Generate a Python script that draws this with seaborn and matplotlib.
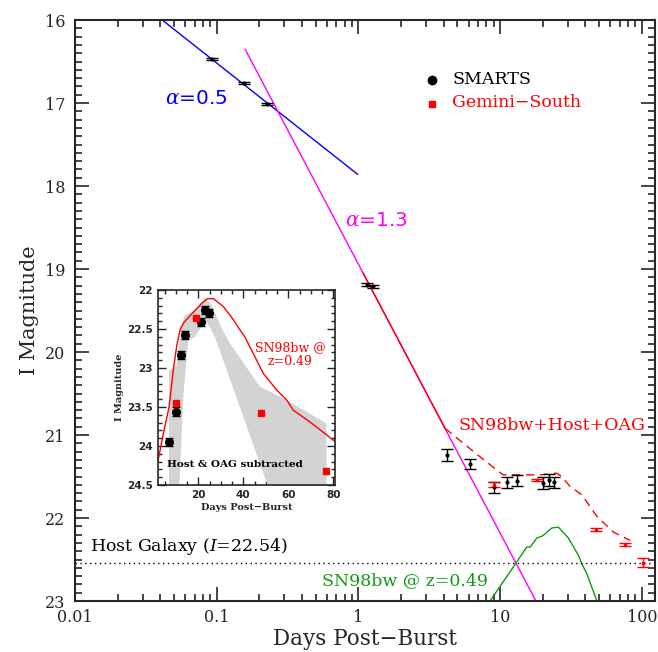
import numpy as np
import pandas as pd
import matplotlib
matplotlib.use("Agg")
import matplotlib.pyplot as plt
import matplotlib.ticker as mticker
import seaborn as sns

# ==========================================
# DATA
# ==========================================

# SMARTS (black) points
smarts_t = [0.0923, 0.157, 0.2275, 1.146, 1.275, 4.2, 6.14, 9.12, 11.25, 13.2, 20.2, 22.2, 24.2]
smarts_mag = [16.47, 16.755, 17.01, 19.19, 19.21, 21.24, 21.35, 21.63, 21.57, 21.55, 21.58, 21.54, 21.57]
smarts_err = [0.012, 0.012, 0.015, 0.02, 0.02, 0.07, 0.06, 0.07, 0.07, 0.07, 0.07, 0.07, 0.07]

# Gemini-South (red) points
gemini_t = [9.12, 18.2, 47.3, 76.2, 102.6]
gemini_mag = [21.60, 21.54, 22.14, 22.32, 22.54]
gemini_err = [0.03, 0.015, 0.02, 0.02, 0.055]

# power-law fits
alpha05_t = [0.0413, 0.99]
alpha05_mag = [16.0, 17.86]
alpha13_t = [0.1585, 17.9]
alpha13_mag = [16.35, 23.0]

# SN98bw + Host + OAG model
model_solid_t = [1.08, 4.09]
model_solid_mag = [19.05, 20.92]
model_dash_t = [4.09, 7.43, 10.5, 13.1, 15.4, 19.1, 25.1, 27.2, 31.2, 37.7, 48.2, 63.1, 82.8]
model_dash_mag = [20.92, 21.28, 21.48, 21.48, 21.48, 21.48, 21.46, 21.5, 21.62, 21.72, 21.98, 22.17, 22.27]

# SN98bw @ z=0.49
sn_t = [8.49, 12.4, 15.4, 16.3, 18.2, 19.7, 20.8, 23.2, 25.8, 30.3, 35.7, 37.7, 40.9, 48.2]
sn_mag = [23.0, 22.59, 22.35, 22.35, 22.24, 22.22, 22.19, 22.12, 22.11, 22.24, 22.45, 22.55, 22.67, 23.0]

host_mag = 22.54

# inset: host & OAG subtracted
in_black_day = [7.1, 10.1, 12.1, 14.1, 21.0, 23.0, 24.9]
in_black_mag = [23.95, 23.56, 22.83, 22.58, 22.41, 22.26, 22.29]
in_black_err = [0.05, 0.06, 0.05, 0.05, 0.05, 0.05, 0.05]
in_red_day = [10.1, 19.0, 47.9, 76.7]
in_red_mag = [23.45, 22.36, 23.58, 24.32]
in_red_err = [0.02, 0.02, 0.02, 0.02]

in_sn_day = [1.9, 4.4, 7.0, 9.0, 10.5, 12.0, 13.5, 16.3, 19.3, 21.5, 24.0, 26.7, 31.1,
             35.6, 38.5, 40.7, 48.9, 54.8, 59.3, 62.2, 69.6, 80.7]
in_sn_mag = [24.22, 23.85, 23.5, 23.0, 22.7, 22.5, 22.42, 22.33, 22.24, 22.17, 22.11, 22.11, 22.21,
             22.38, 22.51, 22.6, 23.07, 23.28, 23.41, 23.54, 23.69, 23.94]

band_upper_day = [7.0, 7.0, 10.2, 11.5, 12.5, 14.1, 17.0, 20.0, 23.0, 25.9, 30.4, 34.0, 47.4, 59.3, 77.0, 77.0]
band_upper_mag = [24.6, 23.03, 22.98, 22.7, 22.45, 22.32, 22.28, 22.2, 22.1, 22.19, 22.49, 22.68, 23.24, 23.41, 23.71, 24.6]
band_lower_day = [52.0, 27.4, 24.0, 21.5, 18.5, 15.6, 13.5, 11.4]
band_lower_mag = [24.6, 22.6, 22.42, 22.47, 22.6, 22.64, 23.3, 24.6]

# ==========================================
# STYLE
# ==========================================

sns.set_style("ticks")
plt.rcParams["font.family"] = ["DejaVu Serif"]
plt.rcParams["mathtext.fontset"] = "dejavuserif"

fig = plt.figure(figsize=(6.58, 6.52), dpi=100)
ax = fig.add_axes([0.114, 0.0782, 0.8815, 0.891])

# ==========================================
# MAIN PANEL
# ==========================================

sns.lineplot(x=alpha05_t, y=alpha05_mag, color="blue", lw=1, ax=ax, estimator=None, sort=False)
sns.lineplot(x=alpha13_t, y=alpha13_mag, color="magenta", lw=1, ax=ax, estimator=None, sort=False)
sns.lineplot(x=model_solid_t, y=model_solid_mag, color="red", lw=1, ax=ax, estimator=None, sort=False)
sns.lineplot(x=model_dash_t, y=model_dash_mag, color="red", lw=1, ax=ax,
             estimator=None, sort=False, dashes=False, linestyle=(0, (6, 4)))
sns.lineplot(x=sn_t, y=sn_mag, color="#119911", lw=1, ax=ax, estimator=None, sort=False)

ax.axhline(host_mag, color="black", lw=1, ls=(0, (1, 2.5)))

ax.errorbar(smarts_t, smarts_mag, yerr=smarts_err, fmt="o", ms=2, color="black",
            capsize=4.5, elinewidth=1, capthick=1)
ax.errorbar(gemini_t, gemini_mag, yerr=gemini_err, fmt="s", ms=2, color="red",
            capsize=4.5, elinewidth=1, capthick=1)

ax.set_xscale("log")
ax.set_xlim(0.01, 124)
ax.set_ylim(23, 16)

ax.xaxis.set_major_locator(mticker.LogLocator(base=10))
ax.xaxis.set_minor_locator(mticker.LogLocator(base=10, subs=np.arange(2, 10)))
ax.xaxis.set_major_formatter(mticker.FuncFormatter(lambda v, p: "%g" % v))
ax.xaxis.set_minor_formatter(mticker.NullFormatter())
ax.yaxis.set_major_locator(mticker.MultipleLocator(1))
ax.yaxis.set_minor_locator(mticker.MultipleLocator(0.1))

ax.tick_params(which="both", direction="in", top=True, right=True, labelsize=11.5, width=1.2)
ax.tick_params(which="major", length=10)
ax.tick_params(which="minor", length=5)
ax.tick_params(axis="x", which="major", pad=6)
ax.tick_params(axis="y", which="major", pad=7)
for s in ax.spines.values():
    s.set_linewidth(1.5)
    s.set_visible(True)

ax.set_xlabel("Days Post\u2212Burst", fontsize=15.5, labelpad=1)
ax.set_ylabel("I Magnitude", fontsize=15, labelpad=4)

ax.text(0.0431, 16.94, r"$\alpha$=0.5", color="blue", fontsize=14.5, va="center",
        family="DejaVu Sans")
ax.text(0.805, 18.41, r"$\alpha$=1.3", color="magenta", fontsize=14.5, va="center",
        family="DejaVu Sans")
ax.text(5.05, 20.88, "SN98bw+Host+OAG", color="red", fontsize=12.5, va="center")
ax.text(0.553, 22.75, "SN98bw @ z=0.49", color="#119911", fontsize=12.5, va="center")
ax.text(0.0128, 22.47, r"Host Galaxy ($I$=22.54)", color="black", fontsize=12.5, va="bottom")

# hand-drawn legend
ax.plot([3.31], [16.72], "o", color="black", ms=6)
ax.plot([3.31], [17.01], "s", color="red", ms=4)
ax.text(4.58, 16.72, "SMARTS", color="black", fontsize=12.5, va="center")
ax.text(4.58, 16.99, "Gemini\u2212South", color="red", fontsize=12.5, va="center")

# ==========================================
# INSET
# ==========================================

ins = fig.add_axes([0.2397, 0.2561, 0.2695, 0.299])
ins.fill(band_upper_day + band_lower_day, band_upper_mag + band_lower_mag,
         color="#d3d3d3", lw=0, zorder=1)
sns.lineplot(x=in_sn_day, y=in_sn_mag, color="red", lw=1, ax=ins, estimator=None, sort=False, zorder=2)
ins.errorbar(in_black_day, in_black_mag, yerr=in_black_err, fmt="o", ms=5.5, color="black",
             capsize=3, elinewidth=1, capthick=1, zorder=3)
ins.errorbar(in_red_day, in_red_mag, yerr=in_red_err, fmt="s", ms=4.5, color="red",
             capsize=2, elinewidth=1, capthick=1, zorder=3)

ins.set_xlim(1.96, 80.8)
ins.set_ylim(24.5, 22)
ins.xaxis.set_major_locator(mticker.MultipleLocator(20))
ins.xaxis.set_minor_locator(mticker.MultipleLocator(5))
ins.yaxis.set_major_locator(mticker.MultipleLocator(0.5))
ins.yaxis.set_minor_locator(mticker.MultipleLocator(0.1))
ins.yaxis.set_major_formatter(mticker.FuncFormatter(lambda v, p: "%g" % v))
ins.tick_params(which="both", direction="in", top=True, right=True, labelsize=7.5, width=1)
ins.tick_params(which="major", length=6)
ins.tick_params(which="minor", length=3)
for lab in ins.get_xticklabels() + ins.get_yticklabels():
    lab.set_family("DejaVu Sans")
    lab.set_fontweight("bold")
for s in ins.spines.values():
    s.set_linewidth(1.2)
    s.set_visible(True)

ins.set_xlabel("Days Post\u2212Burst", fontsize=7, fontweight="bold", labelpad=2)
ins.set_ylabel("I Magnitude", fontsize=7, fontweight="bold", labelpad=2)
ins.text(60.8, 22.83, "SN98bw @\nz=0.49", color="red", fontsize=9, ha="center", va="center",
         linespacing=1.1)
ins.text(6.1, 24.24, "Host & OAG subtracted", color="black", fontsize=7.5, fontweight="bold",
         va="center")

fig.savefig("out.png", dpi=100)
